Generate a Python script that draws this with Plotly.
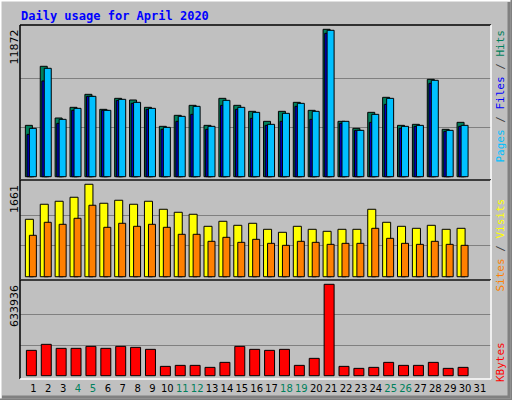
import plotly.graph_objects as go

days = list(range(1, 31))
day_labels = [str(d) for d in range(1, 32)]
weekend = [4, 5, 11, 12, 18, 19, 25, 26]

hits = [4136, 8891, 4727, 5587, 6634, 5426, 6312, 6178, 5587, 4056, 4942, 5748, 4136, 6312, 5748,
        5265, 4459, 5265, 5990, 5345, 11872, 4459, 3895, 5184, 6393, 4136, 4217, 7843, 3814, 4378]
files = [3895, 8730, 4620, 5506, 6473, 5345, 6232, 5990, 5506, 3975, 4862, 5667, 4056, 6151, 5587,
         5184, 4217, 5103, 5909, 5265, 11792, 4459, 3734, 5023, 6312, 4056, 4136, 7763, 3734, 4136]
pages = [3411, 7709, 4298, 5345, 6473, 5345, 6151, 5909, 5426, 3814, 4459, 5023, 3814, 5748, 5426,
         4701, 4136, 4459, 5667, 4620, 11550, 4298, 3734, 4378, 5829, 3895, 4056, 7521, 3653, 4056]
visits = [1032, 1302, 1356, 1428, 1661, 1320, 1374, 1302, 1356, 1212, 1158, 1122, 906, 996, 924,
          960, 852, 798, 906, 852, 816, 852, 852, 1212, 978, 906, 870, 924, 852, 870]
sites = [744, 978, 942, 1050, 1284, 888, 960, 906, 942, 888, 762, 762, 636, 708, 618,
         672, 600, 564, 636, 618, 582, 600, 600, 870, 690, 600, 582, 636, 582, 564]
kbytes = [175834, 217478, 189715, 189715, 203597, 189715, 203597, 196656, 182774, 64781, 71722, 71722,
          57840, 92544, 203597, 182774, 175834, 182774, 71722, 120307, 633936, 64781, 50899, 57840,
          92544, 71722, 71722, 92544, 50899, 57840]

W, H = 512, 400
BG = "#C0C0C0"
def px(x): return x / W
def py(y): return 1 - y / H

fig = go.Figure()
line = dict(color="black", width=1)
def bar(y, color, off, wid, ax):
    fig.add_trace(go.Bar(x=days, y=y, marker=dict(color=color, line=line), offset=off, width=wid,
                         xaxis="x" + ax, yaxis="y" + ax, hoverinfo="skip"))

bar(hits, "#00805C", -0.54, 0.47, "")
bar(pages, "#0000C0", -0.43, 0.47, "")
bar(files, "#00C0FF", -0.27, 0.47, "")
bar(visits, "#FFFF00", -0.54, 0.54, "2")
bar(sites, "#FF8000", -0.27, 0.47, "2")
bar(kbytes, "#FF0000", -0.47, 0.67, "3")

xr = [0.1, 31.74]
xd = [px(20), px(491)]
ticktext = [f"<span style='color:#00805C'>{l}</span>" if int(l) in weekend else l for l in day_labels]
xcommon = dict(range=xr, domain=xd, showgrid=False, zeroline=False, fixedrange=True)
fig.update_layout(
    width=W, height=H, margin=dict(l=0, r=0, t=0, b=0), showlegend=False,
    paper_bgcolor=BG, plot_bgcolor=BG, barmode="overlay",
    xaxis=dict(**xcommon, anchor="y", showticklabels=False),
    xaxis2=dict(**xcommon, anchor="y2", showticklabels=False),
    xaxis3=dict(**xcommon, anchor="y3", tickmode="array", tickvals=list(range(1, 32)), ticktext=ticktext,
                ticks="", tickangle=0, ticklabelstandoff=2,
                tickfont=dict(family="DejaVu Sans", size=10, color="black")),
)
def yax(mx, lo, hi, dom):
    return dict(domain=dom, range=[lo, hi], tickvals=[mx / 3, 2 * mx / 3], showticklabels=False,
                gridcolor="#808080", gridwidth=1, zeroline=False, fixedrange=True)
fig.update_layout(
    yaxis=yax(11872, -266, 12218, [py(180), py(25)]),
    yaxis2=yax(1661, -59, 1738, [py(280), py(180)]),
    yaxis3=yax(633936, -22889, 663761, [py(379), py(280)]),
)

shapes = []
def seg(x0, y0, x1, y1, c, w=2):
    shapes.append(dict(type="line", xref="paper", yref="paper", x0=px(x0), y0=py(y0), x1=px(x1), y1=py(y1),
                       line=dict(color=c, width=w)))
seg(0, 0.5, 512, 0.5, "white"); seg(0.5, 0, 0.5, 400, "white")
seg(0, 399.5, 512, 399.5, "#808080"); seg(511.5, 0, 511.5, 400, "#808080")
seg(2, 397, 510, 397, "#808080", 3); seg(509, 2, 509, 398, "#808080", 3)
for (t, b) in [(25, 180), (180, 280), (280, 379)]:
    seg(20, t, 491, t, "black", 1.5); seg(20, t, 20, b, "black", 1.5)
    seg(20, b, 491, b, "white", 1.5); seg(491, t, 491, b, "white", 1.5)
fig.update_layout(shapes=shapes)

ann = []
ann.append(dict(text="<b>Daily usage for April 2020</b>", x=px(19), y=py(16), xanchor="left", yanchor="middle",
                font=dict(family="DejaVu Sans Mono", size=12, color="#0000FF")))
for txt, yt in [("11872", 28), ("1661", 183), ("633936", 283)]:
    ann.append(dict(text=txt, textangle=-90, x=px(14), y=py(yt), xanchor="center", yanchor="top",
                    font=dict(family="DejaVu Sans", size=11, color="black")))
sl = "<span style='color:#404040'> / </span>"
rights = [
    ("<span style='color:#00C0FF'>Pages</span>" + sl + "<span style='color:#0000FF'>Files</span>" + sl +
     "<span style='color:#00805C'>Hits</span>", 28),
    ("<span style='color:#FF8000'>Sites</span>" + sl + "<span style='color:#FFFF00'>Visits</span>", 197),
    ("<span style='color:#FF0000'>KBytes</span>", 340),
]
for txt, yt in rights:
    ann.append(dict(text=txt, textangle=-90, x=px(500), y=py(yt), xanchor="center", yanchor="top",
                    font=dict(family="DejaVu Sans Mono", size=11)))
for a in ann:
    a.update(xref="paper", yref="paper", showarrow=False)
fig.update_layout(annotations=ann)

fig.write_html("out.html", config={"displayModeBar": False},
               post_script="document.body.style.margin='0';document.body.style.overflow='hidden';")
